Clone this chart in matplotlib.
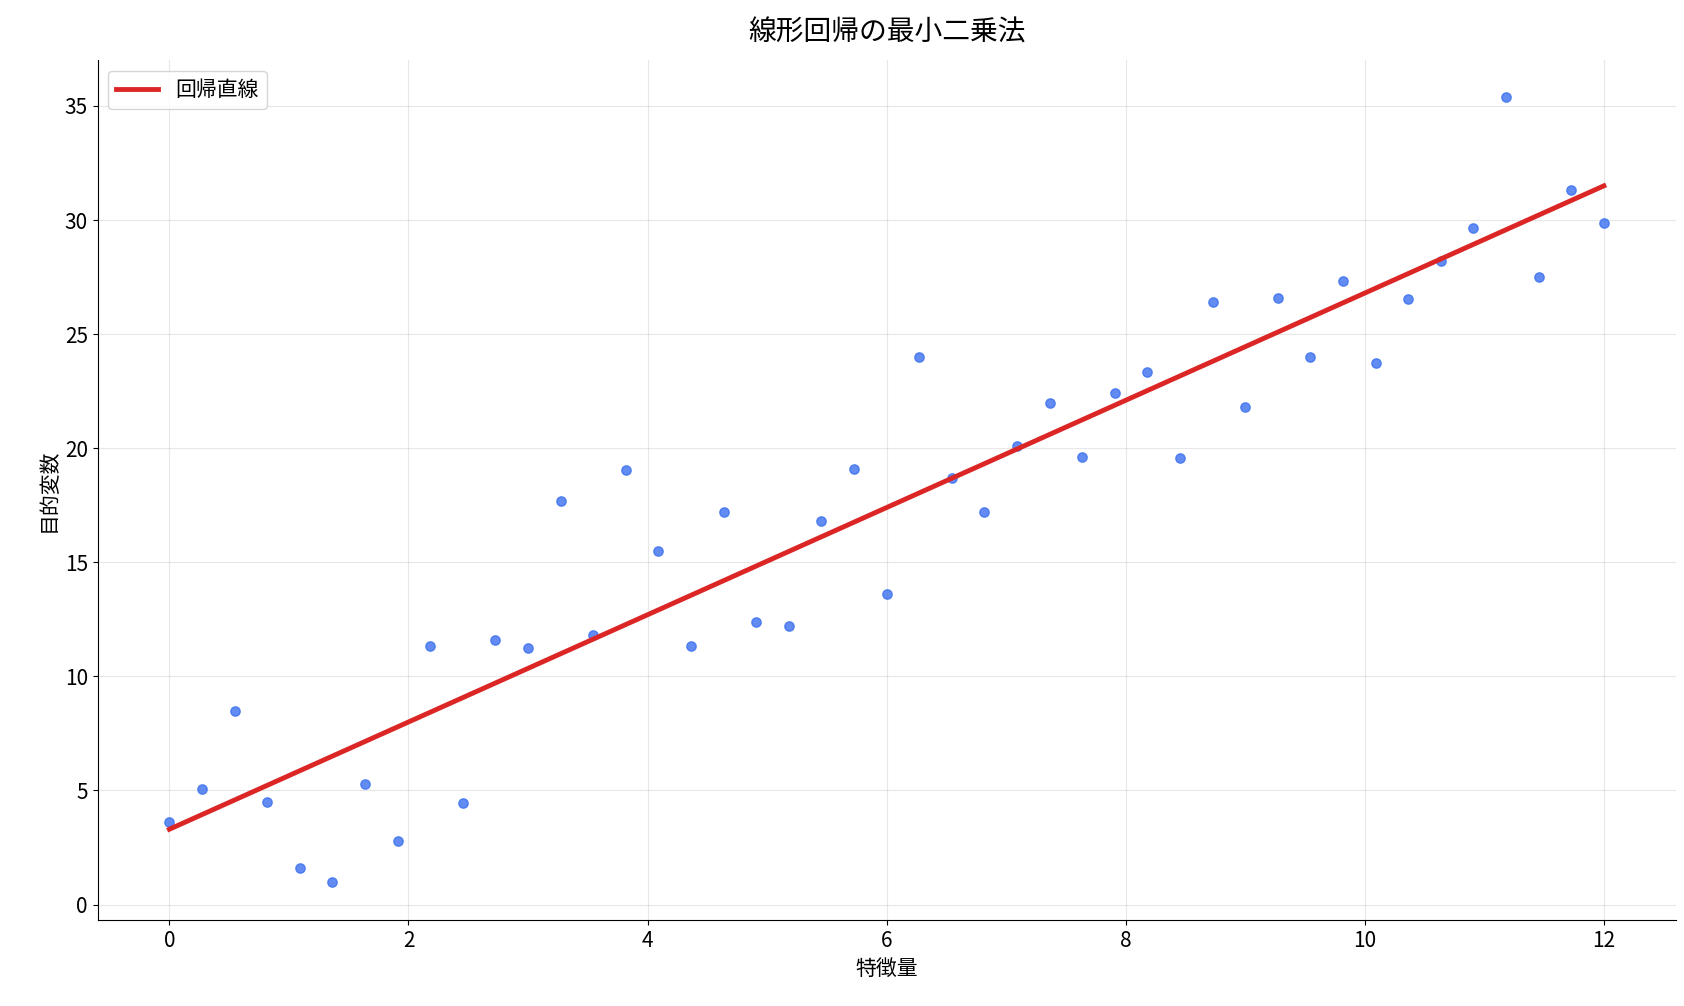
import numpy as np
import matplotlib
matplotlib.use("Agg")
import matplotlib.pyplot as plt

plt.rcParams['font.family'] = ['Noto Sans CJK JP', 'DejaVu Sans']

x = np.linspace(0, 12, 45)
y = [3.6, 5.05, 8.5, 4.5, 1.6, 1.0, 5.3, 2.8, 11.35, 4.45, 11.6, 11.25, 17.7, 11.8, 19.05,
     15.5, 11.35, 17.2, 12.4, 12.2, 16.8, 19.1, 13.6, 24.0, 18.7, 17.2, 20.1, 22.0, 19.6, 22.4,
     23.35, 19.55, 26.4, 21.8, 26.6, 24.0, 27.35, 23.75, 26.55, 28.2, 29.65, 35.4, 27.5, 31.3, 29.85]
y = np.array(y)
line_y0, line_y1 = 3.3, 31.5

fig, ax = plt.subplots(figsize=(16.84, 10.06), dpi=100)
ax.scatter(x, y, s=45, color='#3b6fef', alpha=0.8, zorder=3)
ax.plot([0, 12], [line_y0, line_y1], color='#dc2626', lw=3.5, label='回帰直線', zorder=4)
ax.set_title('線形回帰の最小二乗法', fontsize=20, pad=14)
ax.set_xlabel('特徴量', fontsize=15)
ax.set_ylabel('目的変数', fontsize=15)
ax.tick_params(labelsize=15)
ax.grid(True, alpha=0.3)
ax.spines['top'].set_visible(False)
ax.spines['right'].set_visible(False)
ax.set_xlim(-0.6, 12.6)
ax.set_ylim(-0.7, 37)
ax.legend(loc='upper left', fontsize=15)
fig.subplots_adjust(left=0.058, right=0.995, top=0.94, bottom=0.085)
fig.savefig('out.png', dpi=100)
